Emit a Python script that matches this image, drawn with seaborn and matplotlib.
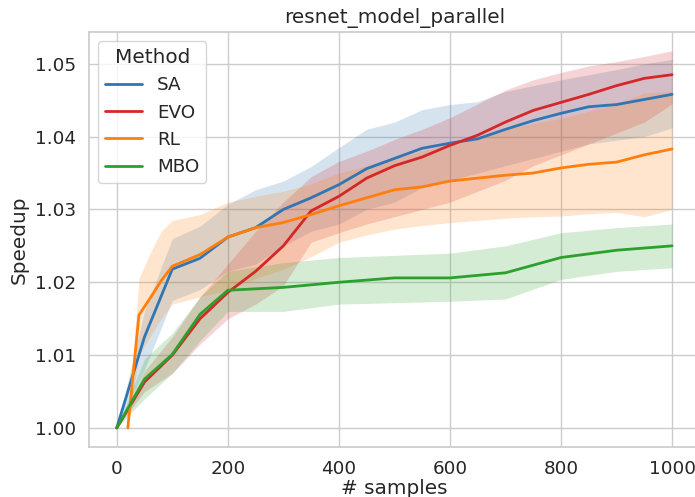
import numpy as np
import pandas as pd
import seaborn as sns
import matplotlib
matplotlib.use('Agg')
import matplotlib.pyplot as plt

methods = ['SA', 'EVO', 'RL', 'MBO']
colors = ['#2f76b2', '#d62728', '#ff7f0e', '#2ca02c']

# sample counts
x_sa = list(range(0, 1001, 50))
x_evo = list(range(0, 1001, 50))
x_rl = [20, 40, 60, 80, 100] + list(range(150, 1001, 50))
x_mbo = [0, 50, 100, 150, 200, 300, 400, 500, 600, 700, 800, 900, 1000]

# mean speedup and band (low / high) per method
sa_mean = [1.000, 1.0125, 1.0218, 1.0233, 1.0262, 1.0275, 1.0300, 1.0316, 1.0334, 1.0356, 1.0370,
           1.0384, 1.0391, 1.0397, 1.0410, 1.0422, 1.0432, 1.0441, 1.0444, 1.0451, 1.0458]
sa_low = [1.000, 1.008, 1.0175, 1.019, 1.0215, 1.0225, 1.025, 1.027, 1.028, 1.030, 1.031,
          1.033, 1.034, 1.035, 1.036, 1.037, 1.038, 1.039, 1.0395, 1.040, 1.0412]
sa_high = [1.000, 1.016, 1.026, 1.0277, 1.0307, 1.0327, 1.0339, 1.0359, 1.0385, 1.041, 1.042,
           1.0437, 1.0444, 1.0448, 1.0462, 1.047, 1.0478, 1.0485, 1.0492, 1.050, 1.0506]

evo_mean = [1.000, 1.0063, 1.0100, 1.0150, 1.0186, 1.0215, 1.0250, 1.0298, 1.0318, 1.0343, 1.0360,
            1.0372, 1.0388, 1.0402, 1.0420, 1.0436, 1.0447, 1.0458, 1.0470, 1.0480, 1.0485]
evo_low = [1.000, 1.005, 1.0075, 1.0115, 1.015, 1.017, 1.0195, 1.0255, 1.0268, 1.028, 1.029,
           1.030, 1.031, 1.0325, 1.034, 1.036, 1.0375, 1.039, 1.0405, 1.042, 1.0445]
evo_high = [1.000, 1.0078, 1.0125, 1.018, 1.0225, 1.027, 1.031, 1.0345, 1.0366, 1.038, 1.0396,
            1.041, 1.0426, 1.0445, 1.0464, 1.0478, 1.0488, 1.0497, 1.0503, 1.051, 1.0518]

rl_mean = [1.000, 1.0155, 1.0178, 1.0202, 1.0222, 1.0238, 1.0262, 1.0275, 1.0282, 1.0293, 1.0305, 1.0316,
           1.0327, 1.0331, 1.0339, 1.0343, 1.0347, 1.0350, 1.0357, 1.0362, 1.0365, 1.0375, 1.0383]
rl_low = [1.000, 1.010, 1.0125, 1.015, 1.017, 1.018, 1.019, 1.0205, 1.0218, 1.0235, 1.0255, 1.0265,
          1.0273, 1.0278, 1.0282, 1.0285, 1.0288, 1.029, 1.0291, 1.0294, 1.0296, 1.029, 1.030]
rl_high = [1.000, 1.0205, 1.024, 1.027, 1.0285, 1.0293, 1.031, 1.0318, 1.0325, 1.0335, 1.035, 1.036,
           1.037, 1.038, 1.039, 1.040, 1.041, 1.0418, 1.0425, 1.0435, 1.0445, 1.046, 1.0462]

mbo_mean = [1.000, 1.0067, 1.0101, 1.0156, 1.0189, 1.0193, 1.0200, 1.0206, 1.0206, 1.0213, 1.0234, 1.0244, 1.0250]
mbo_low = [1.000, 1.004, 1.0075, 1.012, 1.016, 1.016, 1.017, 1.0172, 1.0174, 1.0177, 1.0204, 1.0215, 1.022]
mbo_high = [1.000, 1.0095, 1.013, 1.018, 1.0215, 1.0227, 1.0234, 1.0237, 1.024, 1.025, 1.0268, 1.0275, 1.028]

series = {
    'SA': (x_sa, sa_mean, sa_low, sa_high),
    'EVO': (x_evo, evo_mean, evo_low, evo_high),
    'RL': (x_rl, rl_mean, rl_low, rl_high),
    'MBO': (x_mbo, mbo_mean, mbo_low, mbo_high),
}

rows = []
for m in methods:
    xs, mean, low, high = series[m]
    for x, y, lo, hi in zip(xs, mean, low, high):
        rows.append({'# samples': x, 'Speedup': y, 'low': lo, 'high': hi, 'Method': m})
df = pd.DataFrame(rows)

sns.set_theme(style='whitegrid', font_scale=1.2)

fig = plt.figure(figsize=(6.95, 4.97), dpi=100)
ax = fig.add_axes([0.128, 0.101, 0.879, 0.835])

palette = dict(zip(methods, colors))
sns.lineplot(data=df, x='# samples', y='Speedup', hue='Method', hue_order=methods,
             palette=palette, errorbar=None, linewidth=2, ax=ax)

# shaded bands
for m in methods:
    d = df[df['Method'] == m]
    ax.fill_between(d['# samples'], d['low'], d['high'], color=palette[m], alpha=0.2, linewidth=0)

ax.set_title('resnet_model_parallel')
ax.set_xlabel('# samples', labelpad=1)
ax.set_xticks([0, 200, 400, 600, 800, 1000])
ax.set_yticks([1.00, 1.01, 1.02, 1.03, 1.04, 1.05])
ax.yaxis.set_major_formatter(matplotlib.ticker.FormatStrFormatter('%.2f'))
ax.legend(title='Method', loc='upper left')

fig.savefig('out.png', dpi=100)
